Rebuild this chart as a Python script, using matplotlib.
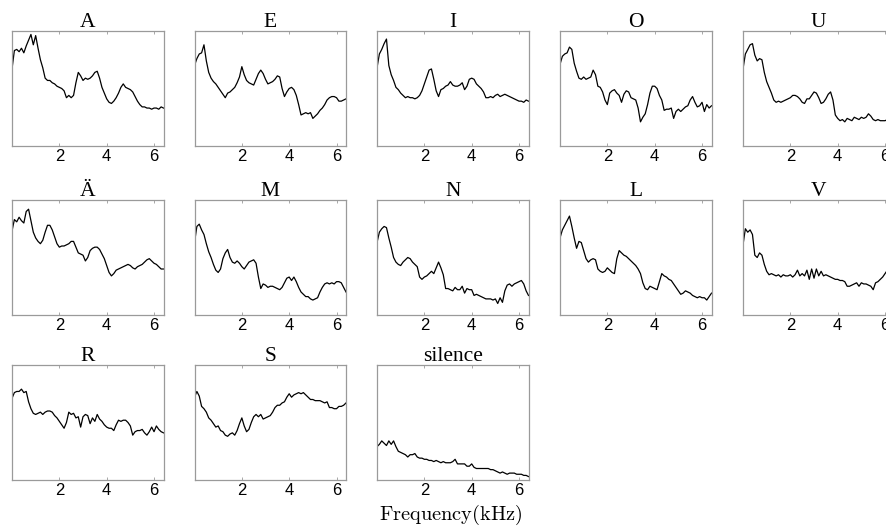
import numpy as np
import matplotlib
matplotlib.use("Agg")
import matplotlib.pyplot as plt

# frequency bins (kHz), 0.1 kHz spacing
freq = np.linspace(0.0, 6.4, 65)

titles = ["A", "E", "I", "O", "U", "Ä", "M", "N", "L", "V", "R", "S", "silence"]

spec_A = [67, 83, 84, 82, 85, 81, 87, 92, 97, 88, 96, 85, 75, 68, 59, 57, 57, 55, 54, 52,
          51, 50, 48, 42, 44, 42, 44, 55, 64, 61, 57, 59, 58, 59, 61, 64, 65, 59, 51, 46,
          41, 38, 37, 39, 42, 46, 51, 54, 51, 50, 49, 47, 43, 39, 36, 34, 34, 33, 33, 32,
          33, 33, 32, 34, 33]
spec_E = [70, 76, 80, 81, 88, 74, 64, 59, 56, 54, 51, 48, 45, 42, 46, 47, 49, 51, 55, 60,
          69, 62, 57, 55, 54, 53, 58, 63, 66, 63, 58, 54, 55, 56, 58, 61, 60, 50, 43, 47,
          50, 51, 49, 44, 36, 27, 28, 29, 28, 29, 24, 26, 28, 31, 33, 36, 40, 42, 43, 43,
          42, 39, 39, 40, 41]
spec_I = [68, 80, 84, 89, 93, 70, 62, 57, 51, 49, 46, 44, 42, 43, 42, 42, 41, 42, 44, 48,
          54, 60, 66, 67, 58, 48, 43, 49, 50, 52, 53, 56, 53, 52, 52, 53, 55, 49, 52, 58,
          59, 58, 54, 52, 50, 47, 42, 42, 43, 42, 44, 45, 43, 44, 45, 44, 43, 42, 41, 40,
          39, 39, 38, 40, 39]
spec_O = [71, 78, 80, 81, 86, 84, 72, 65, 59, 58, 60, 58, 59, 60, 66, 62, 52, 51, 47, 40,
          36, 46, 48, 49, 46, 44, 38, 45, 48, 47, 42, 41, 40, 33, 21, 25, 28, 36, 46, 52,
          52, 50, 44, 40, 31, 32, 32, 33, 24, 30, 32, 30, 32, 34, 35, 40, 43, 38, 34, 35,
          38, 30, 36, 33, 35]
spec_U = [67, 80, 84, 88, 89, 79, 74, 76, 75, 64, 56, 51, 46, 40, 38, 39, 38, 39, 40, 41,
          42, 44, 44, 43, 41, 38, 37, 41, 41, 44, 47, 46, 42, 37, 38, 41, 45, 47, 40, 27,
          24, 22, 23, 21, 24, 23, 22, 25, 24, 23, 25, 24, 25, 28, 26, 23, 22, 23, 22, 22,
          22, 23, 22, 22, 23]
spec_AE = [73, 83, 81, 85, 82, 80, 90, 92, 82, 72, 67, 64, 62, 65, 72, 78, 78, 74, 68, 62,
           59, 60, 60, 61, 62, 64, 64, 59, 54, 53, 52, 47, 50, 56, 58, 59, 59, 57, 53, 49,
           43, 37, 34, 36, 39, 40, 41, 42, 43, 44, 43, 41, 40, 42, 43, 44, 46, 48, 49, 47,
           45, 44, 42, 40, 40]
spec_M = [63, 77, 79, 74, 70, 62, 55, 50, 44, 39, 37, 40, 49, 54, 57, 50, 46, 45, 47, 45,
          42, 40, 43, 46, 47, 48, 45, 33, 23, 27, 26, 24, 25, 25, 24, 23, 22, 24, 28, 32,
          33, 30, 33, 29, 24, 20, 18, 16, 16, 14, 13, 14, 15, 20, 24, 27, 28, 27, 28, 27,
          29, 29, 28, 24, 20]
spec_N = [63, 72, 75, 77, 76, 67, 59, 50, 46, 44, 43, 46, 48, 50, 49, 46, 44, 42, 33, 31,
          33, 34, 36, 38, 36, 41, 46, 41, 35, 23, 23, 22, 21, 24, 22, 22, 25, 19, 23, 22,
          22, 17, 18, 17, 16, 15, 14, 14, 14, 13, 14, 10, 15, 11, 21, 26, 27, 25, 27, 28,
          29, 30, 27, 21, 17]
spec_L = [67, 74, 78, 82, 86, 77, 67, 58, 64, 63, 56, 49, 46, 48, 49, 48, 40, 38, 37, 38,
          41, 39, 37, 36, 49, 56, 54, 52, 51, 49, 47, 45, 43, 40, 36, 28, 23, 22, 25, 24,
          23, 22, 29, 36, 34, 33, 31, 30, 27, 24, 21, 18, 19, 21, 20, 19, 17, 16, 15, 16,
          15, 15, 13, 16, 19]
spec_V = [61, 75, 72, 74, 70, 52, 50, 54, 52, 44, 38, 35, 36, 35, 34, 35, 33, 35, 34, 34,
          35, 33, 35, 39, 34, 36, 34, 39, 31, 40, 32, 40, 34, 38, 34, 35, 34, 33, 32, 31,
          31, 30, 30, 29, 25, 25, 26, 27, 28, 25, 28, 27, 27, 26, 25, 22, 28, 29, 31, 33,
          36, 39, 41, 42, 43]
spec_R = [71, 76, 77, 77, 79, 76, 77, 68, 62, 58, 57, 58, 59, 57, 59, 60, 60, 59, 56, 54,
          51, 48, 45, 50, 59, 57, 58, 54, 55, 46, 55, 57, 56, 49, 54, 51, 57, 53, 51, 48,
          46, 45, 45, 43, 48, 52, 51, 52, 52, 50, 47, 39, 42, 43, 43, 44, 41, 39, 42, 46,
          42, 47, 44, 42, 41]
spec_S = [72, 77, 73, 64, 62, 59, 54, 52, 49, 46, 47, 43, 42, 39, 38, 40, 41, 39, 43, 49,
          54, 47, 42, 44, 50, 55, 57, 55, 57, 53, 54, 55, 56, 59, 63, 65, 65, 67, 68, 72,
          75, 72, 74, 75, 76, 75, 76, 74, 72, 70, 70, 69, 69, 69, 68, 67, 68, 63, 63, 62,
          62, 64, 64, 65, 67]
spec_sil = [29, 31, 34, 32, 30, 34, 31, 34, 29, 25, 24, 23, 22, 20, 22, 22, 23, 20, 19, 19,
            18, 18, 17, 17, 16, 17, 16, 15, 16, 15, 15, 15, 16, 18, 14, 14, 14, 14, 12, 12,
            14, 11, 10, 10, 10, 10, 10, 10, 9, 9, 8, 7, 6, 7, 6, 5, 6, 6, 6, 5,
            5, 5, 4, 4, 3]

spectra = [spec_A, spec_E, spec_I, spec_O, spec_U, spec_AE, spec_M, spec_N, spec_L,
           spec_V, spec_R, spec_S, spec_sil]

xticks = [2, 4, 6]
xtick_labels = ["2", "4", "6"]

W, H = 886, 526
fig = plt.figure(figsize=(W / 100, H / 100), dpi=100)

col_left = [12, 194.5, 377, 560, 743]
row_top = [31, 200, 365]
ax_w, ax_h = 151.5, 115

spine_col = "#9a9a9a"
for i, (title, spec) in enumerate(zip(titles, spectra)):
    r, c = divmod(i, 5)
    left = col_left[c] / W
    bottom = 1 - (row_top[r] + ax_h) / H
    ax = fig.add_axes([left, bottom, ax_w / W, ax_h / H])
    ax.plot(freq, spec, color="black", lw=0.9)
    ax.set_xlim(0.0, 6.4)
    ax.set_ylim(0, 100)
    ax.set_yticks([])
    ax.set_xticks(xticks)
    ax.set_xticklabels(xtick_labels, fontfamily="Liberation Sans", fontsize=12)
    ax.tick_params(axis="x", direction="in", top=True, length=2.5, width=0.6,
                   color=spine_col, pad=2)
    for s in ax.spines.values():
        s.set_color(spine_col)
        s.set_linewidth(0.9)
    ax.set_title(title, fontfamily="Liberation Serif", fontsize=15.5, pad=3)

fig.text(451 / W, 1 - 515 / H, r"$\mathrm{Frequency(kHz)}$", ha="center", va="center",
         fontsize=14.7, math_fontfamily="cm")

fig.savefig("out.png", dpi=100)
